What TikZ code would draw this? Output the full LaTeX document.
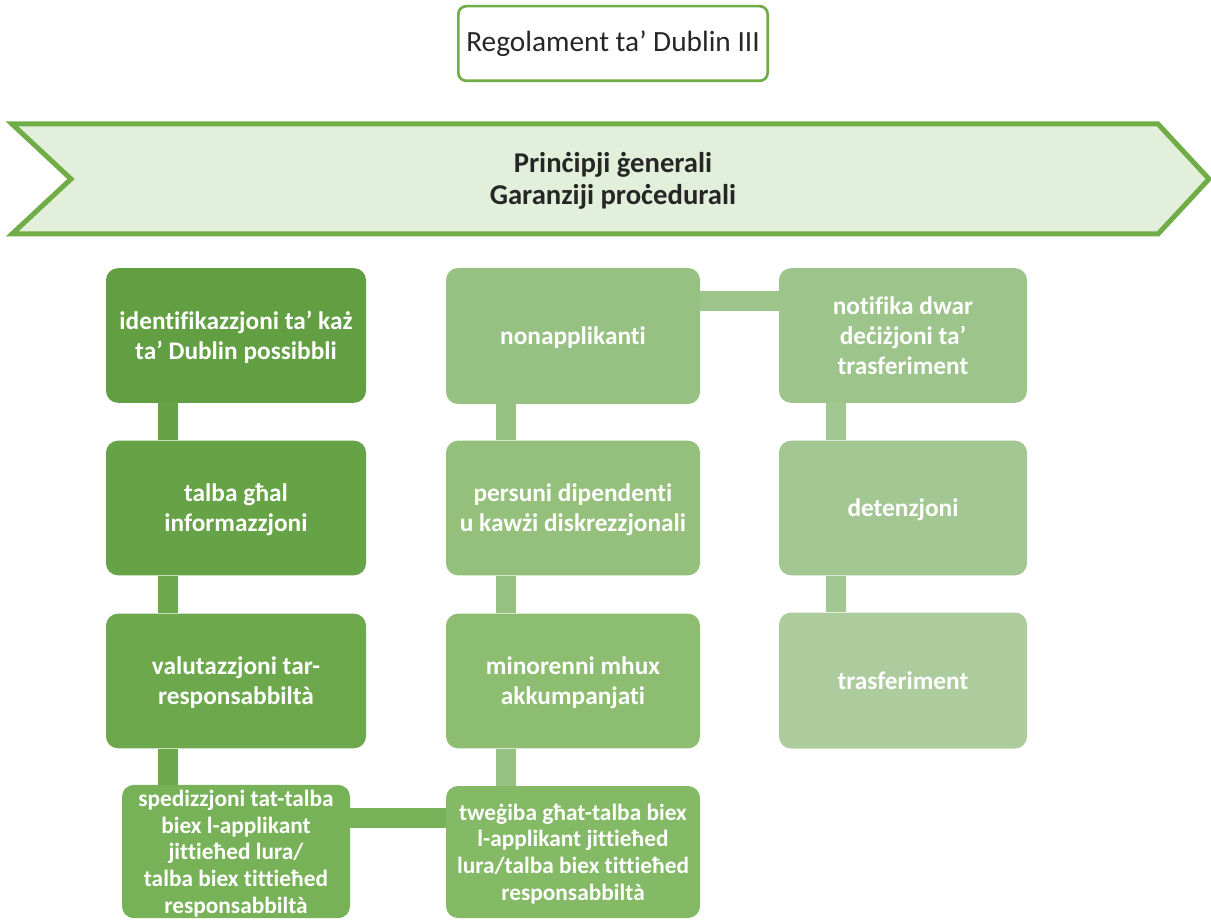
\documentclass[tikz,border=0pt]{standalone}
\usepackage{fontspec}
\setmainfont{Carlito}[Ligatures=CommonOff]
\usepackage{tikz}
\usetikzlibrary{positioning}
\definecolor{cFrame}{HTML}{70AD47}
\definecolor{cBand}{HTML}{E2EFDA}
\definecolor{cInk}{HTML}{262626}
\definecolor{cL1}{HTML}{629E42}
\definecolor{cL2}{HTML}{66A246}
\definecolor{cL3}{HTML}{6DA84C}
\definecolor{cL4}{HTML}{78B258}
\definecolor{cM1}{HTML}{97C182}
\definecolor{cM2}{HTML}{94C07B}
\definecolor{cM3}{HTML}{8CBD71}
\definecolor{cM4}{HTML}{84B966}
\definecolor{cR1}{HTML}{9DC48A}
\definecolor{cR2}{HTML}{A3C792}
\definecolor{cR3}{HTML}{ADCC9D}
\tikzset{
  card/.style ={rounded corners=9pt, inner sep=2pt, align=center, text=white,
                font=\fontsize{19}{22.5}\selectfont\bfseries, text depth=-9.5pt},
  small/.style={font=\fontsize{17.5}{20}\selectfont\bfseries, text depth=-15pt},
  joint/.style={line width=15pt},
}

\begin{document}
\begin{tikzpicture}[x=0.75pt,y=-0.75pt]
        \useasboundingbox (0,0) rectangle (1211,920);
        % title and band
        \node[draw=cFrame, line width=2pt, rounded corners=6pt, minimum width=232pt, minimum height=56pt,
              font=\fontsize{22}{26}\selectfont, text=cInk] (title) at (613,43.5){Regolament ta’ Dublin III};
        \draw[cFrame, fill=cBand, line width=3.75pt, line join=miter]
          (12,124) -- (1158,124) -- (1209,179) -- (1158,234) -- (12,234) -- (71,179) -- cycle;
        \node[align=center, text=cInk, font=\fontsize{21.5}{24}\selectfont\bfseries] (band) at (613,181)
          {Prinċipji ġenerali\\Garanziji proċedurali};
        % left column
        \node[card, fill=cL1, minimum width=195pt, minimum height=101pt] (ident) at (236,335.5)
          {identifikazzjoni ta’ każ\\ta’ Dublin possibbli};
        \node[card, fill=cL2, minimum width=195pt, minimum height=101pt] (info) at (236,508)
          {talba għal\\informazzjoni};
        \node[card, fill=cL3, minimum width=195pt, minimum height=101pt] (valut) at (236,681)
          {valutazzjoni tar-\\responsabbiltà};
        \node[card, small, fill=cL4, minimum width=171pt, minimum height=100pt] (sped) at (236,851.5)
          {spedizzjoni tat-talba\\biex l-applikant\\jittieħed lura/\\talba biex tittieħed\\responsabbiltà};
        % middle column
        \node[card, fill=cM1, minimum width=190.5pt, minimum height=102pt] (nonapp) at (573,336)
          {nonapplikanti};
        \node[card, fill=cM2, minimum width=190.5pt, minimum height=101pt] (persuni) at (573,508)
          {persuni dipendenti\\u kawżi diskrezzjonali};
        \node[card, fill=cM3, minimum width=190.5pt, minimum height=101pt] (minor) at (573,681)
          {minorenni mhux\\akkumpanjati};
        \node[card, small, fill=cM4, minimum width=190.5pt, minimum height=99pt] (tweg) at (573,852)
          {tweġiba għat-talba biex\\l-applikant jittieħed\\lura/talba biex tittieħed\\responsabbiltà};
        % right column
        \node[card, fill=cR1, minimum width=186pt, minimum height=101pt] (notif) at (903,335.5)
          {notifika dwar\\deċiżjoni ta’\\trasferiment};
        \node[card, fill=cR2, minimum width=186pt, minimum height=101pt] (deten) at (903,508)
          {detenzjoni};
        \node[card, fill=cR3, minimum width=186pt, minimum height=102pt] (trasf) at (903,680.5)
          {trasferiment};
        % links
        \draw[joint, cL2] ([xshift=46.5pt]ident.south west) -- ([xshift=46.5pt]info.north west);
        \draw[joint, cL3] ([xshift=46.5pt]info.south west) -- ([xshift=46.5pt]valut.north west);
        \draw[joint, cL3] ([xshift=46.5pt]valut.south west) -- ([xshift=34.5pt]sped.north west);
        \draw[joint, cM1] ([xshift=45pt]nonapp.south west) -- ([xshift=45pt]persuni.north west);
        \draw[joint, cM1] ([xshift=45pt]persuni.south west) -- ([xshift=45pt]minor.north west);
        \draw[joint, cM1] ([xshift=45pt]minor.south west) -- ([xshift=45pt]tweg.north west);
        \draw[joint, cR2] ([xshift=42.75pt]notif.south west) -- ([xshift=42.75pt]deten.north west);
        \draw[joint, cR2] ([xshift=42.75pt]deten.south west) -- ([xshift=42.75pt]trasf.north west);
        \draw[joint, cR1] ([yshift=-25pt]nonapp.north east) -- ([yshift=-25pt]nonapp.north east -| notif.west);
        \draw[joint, cL4] ([yshift=-25pt]sped.north east) -- ([yshift=-25pt]sped.north east -| tweg.west);
      \end{tikzpicture}
\end{document}
